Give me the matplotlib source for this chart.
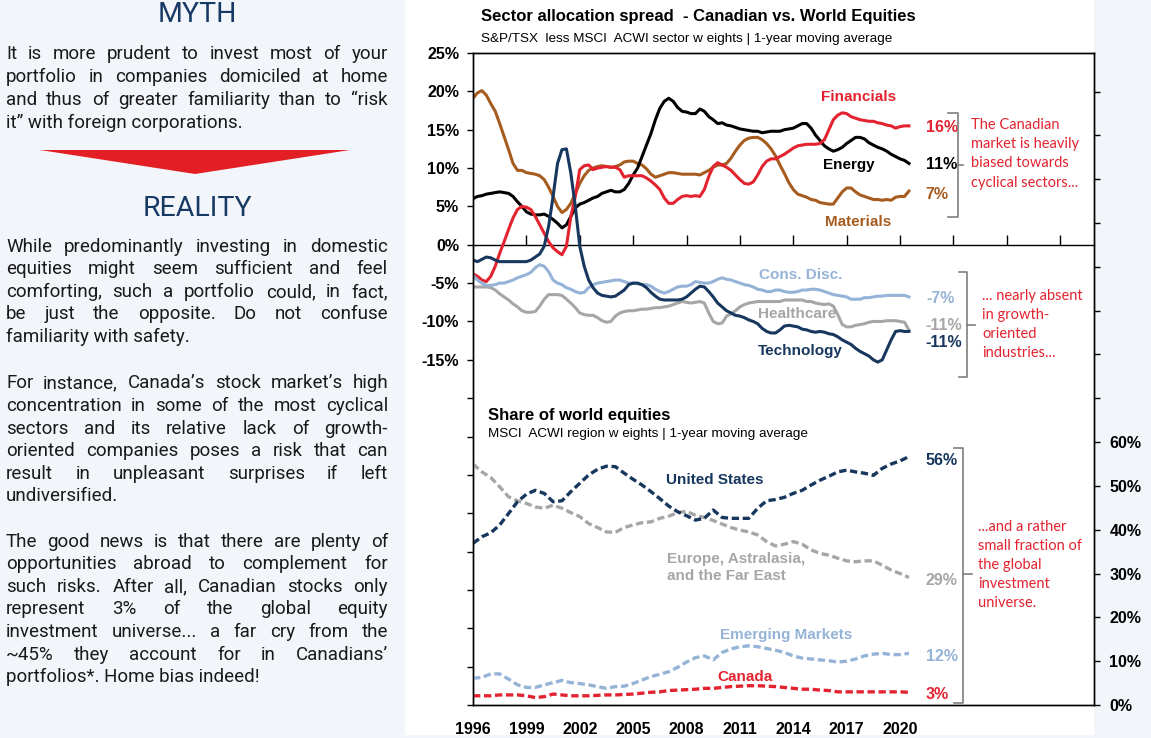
import numpy as np
import matplotlib
matplotlib.use("Agg")
import matplotlib.pyplot as plt
from matplotlib.lines import Line2D
from matplotlib.patches import Polygon, Rectangle

W, H = 1151, 738
plt.rcParams['font.family'] = 'Liberation Sans'

# quarterly dates for the sector spreads, half-year dates for the regions
qtr = np.arange(1996, 2020.51, 0.25)
half = np.arange(1996, 2020.51, 0.5)

#region Sector spreads (S&P/TSX less MSCI ACWI, %)
financials = [-3.8, -4.1, -4.6, -4.8, -4.1, -2.8, -1.1, 0.4, 2.0, 3.5, 4.6, 5.0,
              4.9, 4.6, 3.7, 2.6, 1.5, 0.4, -0.4, -0.9, -1.3, -0.2, 3.7, 6.3,
              9.8, 10.3, 10.4, 9.8, 10.0, 10.1, 10.2, 10.1, 10.1, 9.8, 8.8, 9.0,
              9.0, 9.0, 9.0, 8.7, 8.3, 7.8, 7.2, 6.1, 5.4, 5.4, 5.9, 6.3,
              6.4, 6.3, 6.4, 6.3, 7.2, 8.9, 10.2, 10.7, 10.4, 10.1, 9.7, 9.1,
              8.5, 8.0, 7.9, 8.2, 9.1, 10.2, 10.9, 11.2, 11.2, 11.5, 11.8, 12.2,
              12.6, 12.9, 13.0, 13.1, 13.1, 13.1, 13.2, 13.7, 15.0, 16.3, 16.9, 17.2,
              17.1, 16.7, 16.5, 16.3, 16.2, 16.1, 16.1, 15.9, 15.8, 15.6, 15.5, 15.2,
              15.4, 15.5, 15.5]
energy = [6.0, 6.3, 6.4, 6.6, 6.7, 6.8, 6.9, 6.8, 6.7, 6.3, 5.6, 5.0,
          4.3, 4.0, 3.9, 3.9, 4.0, 3.7, 3.3, 2.8, 2.2, 2.6, 3.7, 4.8,
          5.3, 5.5, 5.8, 6.1, 6.3, 6.7, 6.9, 7.1, 6.9, 6.9, 7.2, 8.0,
          9.1, 10.0, 11.5, 13.0, 14.5, 16.3, 17.8, 18.7, 19.1, 18.7, 17.9, 17.4,
          17.3, 17.1, 17.1, 17.7, 17.4, 16.7, 16.3, 15.8, 15.9, 15.6, 15.5, 15.3,
          15.1, 15.0, 14.9, 14.8, 14.8, 14.6, 14.7, 14.8, 14.8, 14.8, 15.0, 15.1,
          15.2, 15.5, 15.8, 15.8, 15.2, 14.3, 13.6, 12.9, 12.5, 12.2, 12.4, 12.7,
          13.2, 13.6, 14.0, 14.0, 13.8, 13.3, 13.0, 12.7, 12.5, 12.2, 11.8, 11.5,
          11.2, 11.0, 10.6]
materials = [19.1, 19.8, 20.1, 19.5, 18.4, 17.4, 15.8, 14.1, 12.4, 10.6, 9.7, 9.7,
             9.4, 9.3, 9.2, 9.0, 8.5, 7.5, 6.3, 5.0, 4.2, 4.6, 5.4, 6.7,
             8.0, 9.0, 9.7, 10.0, 10.2, 10.3, 10.2, 10.1, 10.2, 10.4, 10.8, 10.9,
             10.9, 10.6, 10.4, 9.9, 9.2, 8.8, 9.0, 9.2, 9.4, 9.4, 9.3, 9.2,
             9.2, 9.2, 9.2, 9.1, 9.4, 9.7, 10.1, 10.4, 10.4, 10.6, 11.3, 12.2,
             13.0, 13.6, 13.9, 14.0, 14.0, 13.7, 13.2, 12.5, 11.6, 10.4, 9.3, 8.1,
             7.2, 6.6, 6.4, 6.2, 5.9, 5.8, 5.5, 5.4, 5.3, 5.3, 6.1, 6.9,
             7.4, 7.4, 6.9, 6.5, 6.3, 6.1, 5.9, 5.9, 5.8, 5.9, 5.8, 6.2,
             6.3, 6.3, 7.0]
cons_disc = [-4.0, -4.6, -5.0, -5.3, -5.3, -5.2, -5.0, -5.0, -4.8, -4.6, -4.3, -4.1,
             -3.9, -3.6, -3.0, -2.6, -2.8, -3.5, -4.6, -5.0, -5.2, -5.6, -5.8, -6.1,
             -6.3, -6.2, -5.6, -5.2, -5.0, -4.9, -4.8, -4.7, -4.6, -4.6, -4.8, -5.0,
             -5.0, -5.1, -5.2, -5.2, -5.4, -5.8, -6.1, -6.3, -6.1, -5.8, -5.5, -5.4,
             -5.4, -5.2, -4.8, -4.9, -5.0, -5.0, -4.8, -4.5, -4.3, -4.5, -4.6, -4.8,
             -5.0, -5.2, -5.3, -5.5, -5.8, -5.9, -6.1, -6.1, -5.9, -5.9, -6.1, -6.2,
             -6.2, -6.1, -5.9, -5.9, -5.8, -5.8, -5.9, -6.1, -6.3, -6.5, -6.6, -6.7,
             -6.8, -7.1, -7.1, -7.1, -6.9, -6.9, -6.8, -6.7, -6.7, -6.6, -6.6, -6.6,
             -6.6, -6.6, -6.8]
healthcare = [-5.5, -5.5, -5.5, -5.5, -5.6, -5.9, -6.4, -6.8, -7.2, -7.7, -8.1, -8.6,
              -8.8, -8.8, -8.7, -8.0, -7.1, -6.5, -6.5, -6.5, -6.6, -7.1, -7.6, -8.2,
              -8.9, -9.1, -9.2, -9.2, -9.5, -9.9, -10.1, -10.0, -9.3, -8.9, -8.7, -8.6,
              -8.6, -8.5, -8.4, -8.4, -8.3, -8.2, -8.2, -8.1, -8.0, -7.8, -7.6, -7.4,
              -7.5, -7.6, -7.5, -7.4, -7.6, -8.9, -10.0, -10.3, -10.2, -9.3, -9.0, -8.6,
              -8.1, -7.8, -7.6, -7.5, -7.4, -7.4, -7.4, -7.4, -7.4, -7.4, -7.2, -7.2,
              -7.2, -7.2, -7.2, -7.4, -7.4, -7.6, -7.7, -7.8, -7.7, -8.0, -9.1, -10.4,
              -10.7, -10.7, -10.5, -10.4, -10.3, -10.1, -10.0, -10.0, -10.0, -9.9, -9.9, -9.9,
              -10.0, -10.1, -11.1]
technology = [-2.0, -2.2, -1.9, -1.6, -1.7, -2.0, -2.2, -2.2, -2.2, -2.2, -2.2, -2.2,
              -2.2, -2.0, -1.6, -1.2, -0.2, 2.4, 6.3, 10.6, 12.4, 12.5, 9.3, 5.0,
              -0.2, -2.8, -4.6, -5.6, -6.3, -6.6, -6.7, -6.8, -6.7, -6.3, -5.9, -5.2,
              -5.0, -5.0, -5.2, -5.6, -6.2, -6.7, -7.1, -7.2, -7.2, -7.2, -7.2, -7.1,
              -6.8, -6.3, -5.8, -5.4, -5.5, -6.1, -6.8, -7.6, -8.1, -8.6, -8.9, -9.2,
              -9.3, -9.5, -9.8, -10.0, -10.3, -10.9, -11.3, -11.5, -11.5, -11.1, -10.6, -10.5,
              -10.6, -10.7, -11.0, -11.1, -11.3, -11.4, -11.3, -11.4, -11.6, -11.7, -12.0, -12.4,
              -12.7, -13.0, -13.5, -13.9, -14.2, -14.5, -15.0, -15.3, -15.0, -13.7, -12.4, -11.3,
              -11.2, -11.3, -11.3]
#endregion

#region Region weights (MSCI ACWI, %)
united_states = [36.9, 38.4, 39.3, 41.1, 43.7, 46.4, 48.1, 49.0, 48.3, 46.4,
                 46.6, 48.7, 50.6, 52.5, 53.8, 54.5, 54.4, 52.9, 51.5, 50.2,
                 48.7, 47.1, 45.4, 44.1, 43.2, 42.2, 42.6, 44.5, 42.8, 42.6,
                 42.6, 42.6, 44.9, 46.6, 46.9, 47.4, 48.3, 49.0, 50.2, 51.3,
                 52.2, 53.2, 53.6, 53.2, 52.9, 52.4, 54.0, 55.0, 55.7, 56.7]
eafe = [55.0, 53.2, 51.9, 49.8, 47.5, 46.6, 46.0, 45.2, 44.9, 45.6,
        44.9, 43.9, 43.0, 41.4, 40.5, 39.5, 39.4, 40.5, 41.1, 41.6,
        41.8, 42.6, 43.1, 43.9, 44.2, 43.3, 42.8, 42.1, 41.3, 40.5,
        39.9, 39.5, 38.8, 37.3, 36.3, 36.7, 37.3, 36.7, 35.4, 34.6,
        34.2, 33.5, 32.9, 32.7, 32.9, 32.9, 31.9, 30.8, 30.0, 29.1]
emerging = [6.1, 6.3, 7.1, 7.1, 5.9, 4.6, 4.0, 4.0, 4.6, 5.1,
            5.6, 5.1, 4.9, 4.6, 4.2, 3.8, 4.2, 4.3, 4.9, 5.7,
            6.5, 7.0, 7.6, 8.6, 9.8, 10.8, 11.2, 10.3, 12.0, 12.8,
            13.3, 13.5, 13.3, 12.9, 12.5, 12.0, 11.2, 10.7, 10.5, 10.3,
            10.1, 9.8, 10.0, 10.5, 11.2, 11.6, 11.8, 11.5, 11.5, 11.8]
canada = [2.1, 2.1, 2.1, 2.3, 2.3, 2.3, 2.1, 1.7, 1.9, 2.5,
          2.3, 2.1, 2.1, 2.1, 2.2, 2.3, 2.3, 2.4, 2.5, 2.7,
          2.9, 3.0, 3.3, 3.4, 3.5, 3.6, 3.8, 3.8, 4.0, 4.2,
          4.3, 4.4, 4.4, 4.3, 4.2, 4.0, 3.8, 3.6, 3.6, 3.4,
          3.3, 3.0, 3.0, 3.0, 3.0, 3.0, 3.0, 3.0, 3.0, 2.9]
#endregion

year_labels = [1996, 1999, 2002, 2005, 2008, 2011, 2014, 2017, 2020]
left_ticks = np.arange(-60, 26, 5)
right_ticks = np.arange(0, 141, 10)

RED, NAVY, LBLUE, GRAY, BROWN = '#E3232F', '#17375E', '#95B3D7', '#A6A6A6', '#A65B1F'
PANEL = '#F2F5F9'
TXT = '#1A1A1A'
HEAD = '#173A64'

myth = ["It is more prudent to invest most of your",
        "portfolio in companies domiciled at home",
        "and thus of greater familiarity than to \u201crisk",
        "it\u201d with foreign corporations."]
reality = [["While predominantly investing in domestic",
            "equities might seem sufficient and feel",
            "comforting, such a portfolio could, in fact,",
            "be just the opposite. Do not confuse",
            "familiarity with safety."],
           ["For instance, Canada\u2019s stock market\u2019s high",
            "concentration in some of the most cyclical",
            "sectors and its relative lack of growth-",
            "oriented companies poses a risk that can",
            "result in unpleasant surprises if left",
            "undiversified."],
           ["The good news is that there are plenty of",
            "opportunities abroad to complement for",
            "such risks. After all, Canadian stocks only",
            "represent 3% of the global equity",
            "investment universe... a far cry from the",
            "~45% they account for in Canadians\u2019",
            "portfolios*. Home bias indeed!"]]


def px(x, y):
    # pixel position (from top-left) to figure fraction
    return x / W, 1 - y / H


def justify(fig, lines, y0, dy, x0=6, x1=388, **kw):
    r = fig.canvas.get_renderer()
    for i, line in enumerate(lines):
        y = 1 - (y0 + i * dy) / H
        words = line.split()
        if i == len(lines) - 1:
            fig.text(x0 / W, y, line, va='baseline', **kw)
            continue
        arts = [fig.text(0, y, w, va='baseline', **kw) for w in words]
        widths = [a.get_window_extent(r).width for a in arts]
        gap = (x1 - x0 - sum(widths)) / (len(words) - 1)
        x = x0
        for a, w in zip(arts, widths):
            a.set_x(x / W)
            x += w + gap


def fig_line(fig, xs, ys, **kw):
    pts = [px(x, y) for x, y in zip(xs, ys)]
    fig.add_artist(Line2D([p[0] for p in pts], [p[1] for p in pts],
                          transform=fig.transFigure, **kw))


def bracket(fig, xv, ytop, ybot, ymid, hook, tick):
    fig_line(fig, [xv - hook, xv, xv, xv - hook], [ytop, ytop, ybot, ybot],
             color='#7F7F7F', lw=1.2)
    fig_line(fig, [xv, xv + tick], [ymid, ymid], color='#7F7F7F', lw=1.2)


def note(fig, lines, x, y0, dy):
    for i, s in enumerate(lines):
        fig.text(*px(x, y0 + i * dy), s, color=RED, fontsize=10.5,
                 family='Lato', va='center', ha='left')


fig = plt.figure(figsize=(W / 100, H / 100), dpi=100, facecolor=PANEL)
fig.add_artist(Rectangle(px(405, 735), (1094 - 405) / W, 735 / H,
                         transform=fig.transFigure, facecolor='white',
                         edgecolor='none', zorder=-5))

#region Left panel
fig.text(*px(197, 15), "MYTH", family='Roboto', fontsize=20.5, color=HEAD,
         ha='center', va='center')
justify(fig, myth, 59, 23, family='Roboto', fontsize=13.5, color=TXT)
fig.add_artist(Polygon([px(40, 150), px(350, 150), px(195, 174)], closed=True,
                       transform=fig.transFigure, facecolor='#E31E24',
                       edgecolor='none'))
fig.text(*px(197, 208), "REALITY", family='Roboto', fontsize=20.5, color=HEAD,
         ha='center', va='center')
for par, y0 in zip(reality, [251.7, 388.3, 546.7]):
    justify(fig, par, y0, 22.6, family='Roboto', fontsize=13.5, color=TXT)
#endregion

#region Chart
ax = fig.add_axes([473 / W, 1 - 705 / H, (1094 - 473) / W, (705 - 53) / H])
ax.set_facecolor('white')
ax.set_xlim(1996, 2030.9)
ax.set_ylim(-60, 25)
ax2 = ax.twinx()
ax2.set_ylim(0, 148.8)

lw = 2.2
ax.plot(qtr, materials, color=BROWN, lw=lw)
ax.plot(qtr, energy, color='black', lw=lw)
ax.plot(qtr, financials, color=RED, lw=lw)
ax.plot(qtr, healthcare, color=GRAY, lw=lw)
ax.plot(qtr, cons_disc, color=LBLUE, lw=lw)
ax.plot(qtr, technology, color=NAVY, lw=lw)

dash = (0, (2.2, 1.1))
ax2.plot(half, eafe, color=GRAY, lw=2.4, ls=dash)
ax2.plot(half, united_states, color=NAVY, lw=2.4, ls=dash)
ax2.plot(half, emerging, color=LBLUE, lw=2.4, ls=dash)
ax2.plot(half, canada, color=RED, lw=2.4, ls=dash)

# axes and ticks
for a in (ax, ax2):
    for s in a.spines.values():
        s.set_color('black')
        s.set_linewidth(1)
ax.set_xticks(year_labels)
ax.set_xticklabels([str(y) for y in year_labels], fontweight='bold', fontsize=11.5)
ax.tick_params(axis='x', length=0, pad=12)
ax.set_yticks(left_ticks)
ax.set_yticklabels([f"{v}%" if v >= -15 else "" for v in left_ticks],
                   fontweight='bold', fontsize=11.5)
ax.tick_params(axis='y', direction='out', length=4, width=1, pad=6)
ax2.set_yticks(right_ticks)
ax2.set_yticklabels([f"{v}%" if v <= 60 else "" for v in right_ticks],
                    fontweight='bold', fontsize=11.5)
ax2.tick_params(axis='y', direction='out', length=4, width=1, pad=7)

# zero line of the spread chart, with its own tick marks
zero = ax.secondary_xaxis(60 / 85)
zero.set_xticks(np.arange(1999, 2030, 3))
zero.tick_params(direction='out', length=7, width=1, labeltop=False, labelbottom=False)
for s in zero.spines.values():
    s.set_linewidth(1)

# series names
bold = dict(fontweight='bold', fontsize=11, va='center')
ax.text(2017.65, 19.3, "Financials", color=RED, ha='center', **bold)
ax.text(2017.1, 10.4, "Energy", color='black', ha='center', **bold)
ax.text(2017.65, 3.0, "Materials", color=BROWN, ha='center', **bold)
ax.text(2014.4, -4.0, "Cons. Disc.", color=LBLUE, ha='center', **bold)
ax.text(2014.2, -9.0, "Healthcare", color=GRAY, ha='center', **bold)
ax.text(2014.4, -13.9, "Technology", color=NAVY, ha='center', **bold)
ax2.text(2009.6, 51.3, "United States", color=NAVY, ha='center', **bold)
ax2.text(2006.9, 31.4, "Europe, Astralasia,\nand the Far East", color=GRAY,
         ha='left', linespacing=1.25, **bold)
ax2.text(2013.6, 16.0, "Emerging Markets", color=LBLUE, ha='center', **bold)
ax2.text(2011.3, 6.5, "Canada", color=RED, ha='center', **bold)

# latest values
ends = dict(fontweight='bold', fontsize=11.5, va='center', ha='left')
ax.text(2021.45, 15.3, "16%", color=RED, **ends)
ax.text(2021.45, 10.4, "11%", color='black', **ends)
ax.text(2021.45, 6.6, "7%", color=BROWN, **ends)
ax.text(2021.5, -7.0, "-7%", color=LBLUE, **ends)
ax.text(2021.45, -10.5, "-11%", color=GRAY, **ends)
ax.text(2021.45, -12.7, "-11%", color=NAVY, **ends)
ax2.text(2021.45, 55.9, "56%", color=NAVY, **ends)
ax2.text(2021.45, 28.3, "29%", color=GRAY, **ends)
ax2.text(2021.45, 11.0, "12%", color=LBLUE, **ends)
ax2.text(2021.45, 2.3, "3%", color=RED, **ends)
#endregion

#region Titles, brackets and comments
fig.text(*px(481, 17), "Sector allocation spread  - Canadian vs. World Equities",
         fontweight='bold', fontsize=12, va='center', color='black')
fig.text(*px(481, 39), "S&P/TSX  less MSCI  ACWI sector w eights | 1-year moving average",
         fontsize=9.7, va='center', color='black')
fig.text(*px(488, 416), "Share of world equities", fontweight='bold',
         fontsize=12, va='center', color='black')
fig.text(*px(488, 434), "MSCI  ACWI region w eights | 1-year moving average",
         fontsize=9.7, va='center', color='black')

bracket(fig, 958, 112.7, 216.7, 165, 10, 5)
bracket(fig, 966.7, 272.3, 376.7, 325, 8, 8)
bracket(fig, 962.7, 447.7, 702.7, 574.3, 9, 9)

note(fig, ["The Canadian", "market is heavily", "biased towards",
           "cyclical sectors..."], 971, 125, 19.2)
note(fig, ["... nearly absent", "in growth-", "oriented", "industries..."],
     982, 296, 18.9)
note(fig, ["...and a rather", "small fraction of", "the global",
           "investment", "universe."], 978, 527.3, 18.85)
#endregion

fig.savefig("out.png", dpi=100, facecolor=PANEL)
